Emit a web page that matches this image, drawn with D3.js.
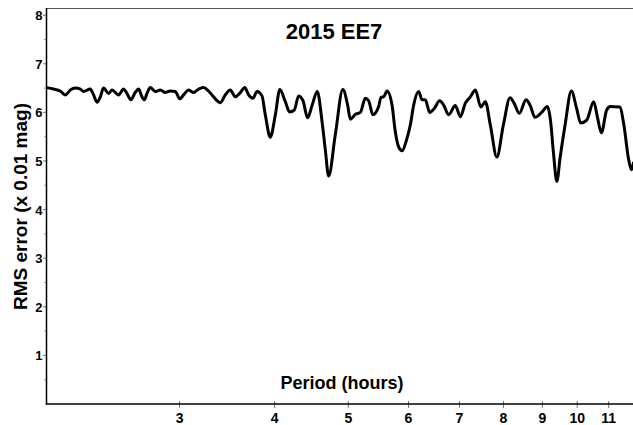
<!DOCTYPE html>
<html>
<head>
<meta charset="utf-8">
<script src="https://cdn.jsdelivr.net/npm/d3@7"></script>
<style>
  html, body { margin: 0; padding: 0; background: #fff; }
  svg { display: block; font-family: "Liberation Sans", Arial, sans-serif; }
</style>
</head>
<body>
<svg id="chart" width="633" height="425"></svg>
<script>
const periods = [2.005,2.048,2.090,2.122,2.155,2.187,2.221,2.243,2.289,2.312,
  2.336,2.360,2.383,2.420,2.445,2.494,2.532,2.558,2.588,2.623,
  2.650,2.677,2.696,2.718,2.745,2.787,2.830,2.873,2.917,2.961,
  3.002,3.037,3.083,3.130,3.178,3.226,3.275,3.325,3.394,3.445,
  3.498,3.551,3.598,3.655,3.697,3.747,3.792,3.850,3.889,3.948,
  4.009,4.064,4.132,4.186,4.246,4.302,4.359,4.421,4.480,4.552,
  4.618,4.664,4.711,4.807,4.918,4.990,5.031,5.108,5.186,5.265,
  5.318,5.386,5.481,5.521,5.565,5.622,5.708,5.765,5.823,5.884,
  5.973,6.033,6.094,6.187,6.251,6.314,6.397,6.488,6.593,6.674,
  6.775,6.914,7.020,7.127,7.236,7.346,7.469,7.572,7.687,7.840,
  7.996,8.160,8.259,8.393,8.565,8.669,8.802,8.979,9.136,9.227,
  9.303,9.402,9.494,9.639,9.824,9.983,10.105,10.290,10.511,10.629,
  10.759,10.933,11.056,11.372,11.518,11.676,11.782,11.854];

const rmsValues = [6.51,6.48,6.44,6.36,6.46,6.50,6.48,6.43,6.48,6.36,
  6.21,6.32,6.50,6.39,6.46,6.36,6.48,6.39,6.26,6.41,
  6.48,6.32,6.26,6.39,6.51,6.43,6.46,6.41,6.44,6.43,
  6.28,6.36,6.46,6.41,6.48,6.51,6.44,6.32,6.20,6.36,
  6.46,6.32,6.39,6.51,6.36,6.29,6.43,6.34,5.95,5.49,
  5.95,6.47,6.22,6.01,6.05,6.34,6.24,5.89,6.14,6.43,
  5.81,5.23,4.69,5.54,6.47,6.15,5.86,5.96,6.00,6.29,
  6.24,5.95,6.12,6.31,6.32,6.44,6.15,5.60,5.29,5.21,
  5.47,5.74,6.15,6.43,6.26,6.26,6.00,6.08,6.24,6.15,
  5.95,6.14,5.91,6.19,6.32,6.46,6.11,6.22,5.74,5.08,
  5.74,6.30,6.19,5.98,6.26,6.15,5.90,6.00,6.12,5.81,
  5.19,4.58,5.06,5.74,6.44,6.08,5.78,5.84,6.22,5.91,
  5.58,6.05,6.12,6.11,5.74,5.06,4.82,4.96];

const xTicks = [3,4,5,6,7,8,9,10,11];
const yTicks = [1,2,3,4,5,6,7,8];
const yMinorTicks = [0.5,1.5,2.5,3.5,4.5,5.5,6.5,7.5];
const titleText = "2015 EE7";
const xLabel = "Period (hours)";
const yLabel = "RMS error (x 0.01 mag)";

(function () {
const svg = d3.select("#chart");
const pl = 46.5, pr = 633, pt = 8, pb = 404;

const x = d3.scaleLog().domain([2.005, 11.84]).range([pl, pr]);
const y = d3.scaleLinear().domain([0, 8]).range([pb, 15.2]);

svg.append("defs").append("clipPath").attr("id", "clip")
  .append("rect").attr("x", pl).attr("y", pt).attr("width", pr - pl).attr("height", pb - pt);

// top frame line
svg.append("line").attr("x1", pl).attr("x2", pr).attr("y1", pt + 0.5).attr("y2", pt + 0.5)
  .attr("stroke", "#555").attr("stroke-width", 1);

// x ticks
const gx = svg.append("g");
gx.selectAll("line").data(xTicks).enter().append("line")
  .attr("x1", d => x(d)).attr("x2", d => x(d)).attr("y1", pb - 3).attr("y2", pb + 4)
  .attr("stroke", "#777").attr("stroke-width", 1);
gx.selectAll("text").data(xTicks).enter().append("text")
  .attr("x", d => x(d)).attr("y", 422.5).attr("text-anchor", "middle")
  .attr("font-size", 14).attr("font-weight", "bold").attr("fill", "#000")
  .text(d => d);

// y ticks
const gy = svg.append("g");
gy.selectAll("line.major").data(yTicks).enter().append("line").attr("class", "major")
  .attr("x1", pl - 3.5).attr("x2", pl).attr("y1", d => y(d)).attr("y2", d => y(d))
  .attr("stroke", "#777").attr("stroke-width", 1);
gy.selectAll("line.minor").data(yMinorTicks).enter().append("line").attr("class", "minor")
  .attr("x1", pl - 2.5).attr("x2", pl).attr("y1", d => y(d)).attr("y2", d => y(d))
  .attr("stroke", "#aaa").attr("stroke-width", 1);
gy.selectAll("text").data(yTicks).enter().append("text")
  .attr("x", 42.5).attr("y", d => y(d) + 5).attr("text-anchor", "end")
  .attr("font-size", 13).attr("font-weight", "bold").attr("fill", "#000")
  .text(d => d);

// axes lines
svg.append("line").attr("x1", pl).attr("x2", pl).attr("y1", pt).attr("y2", pb + 0.75)
  .attr("stroke", "#000").attr("stroke-width", 1.5);
svg.append("line").attr("x1", pl - 0.75).attr("x2", pr).attr("y1", pb).attr("y2", pb)
  .attr("stroke", "#000").attr("stroke-width", 1.5);

// data line
const data = periods.map((p, i) => [p, rmsValues[i]]);
const line = d3.line().x(d => x(d[0])).y(d => y(d[1])).curve(d3.curveMonotoneX);
svg.append("path").datum(data).attr("clip-path", "url(#clip)")
  .attr("d", line).attr("fill", "none").attr("stroke", "#000")
  .attr("stroke-width", 3).attr("stroke-linejoin", "round").attr("stroke-linecap", "round");

// title
svg.append("text").attr("x", 334).attr("y", 38.5).attr("text-anchor", "middle")
  .attr("font-size", 22).attr("font-weight", "bold").attr("fill", "#000").text(titleText);

// x label
svg.append("text").attr("x", 342).attr("y", 389).attr("text-anchor", "middle")
  .attr("font-size", 18).attr("font-weight", "bold").attr("fill", "#000").text(xLabel);

// y label
svg.append("text").attr("transform", "translate(27,206.5) rotate(-90)").attr("text-anchor", "middle")
  .attr("font-size", 19).attr("font-weight", "bold").attr("fill", "#000").text(yLabel);
})();
</script>
</body>
</html>
